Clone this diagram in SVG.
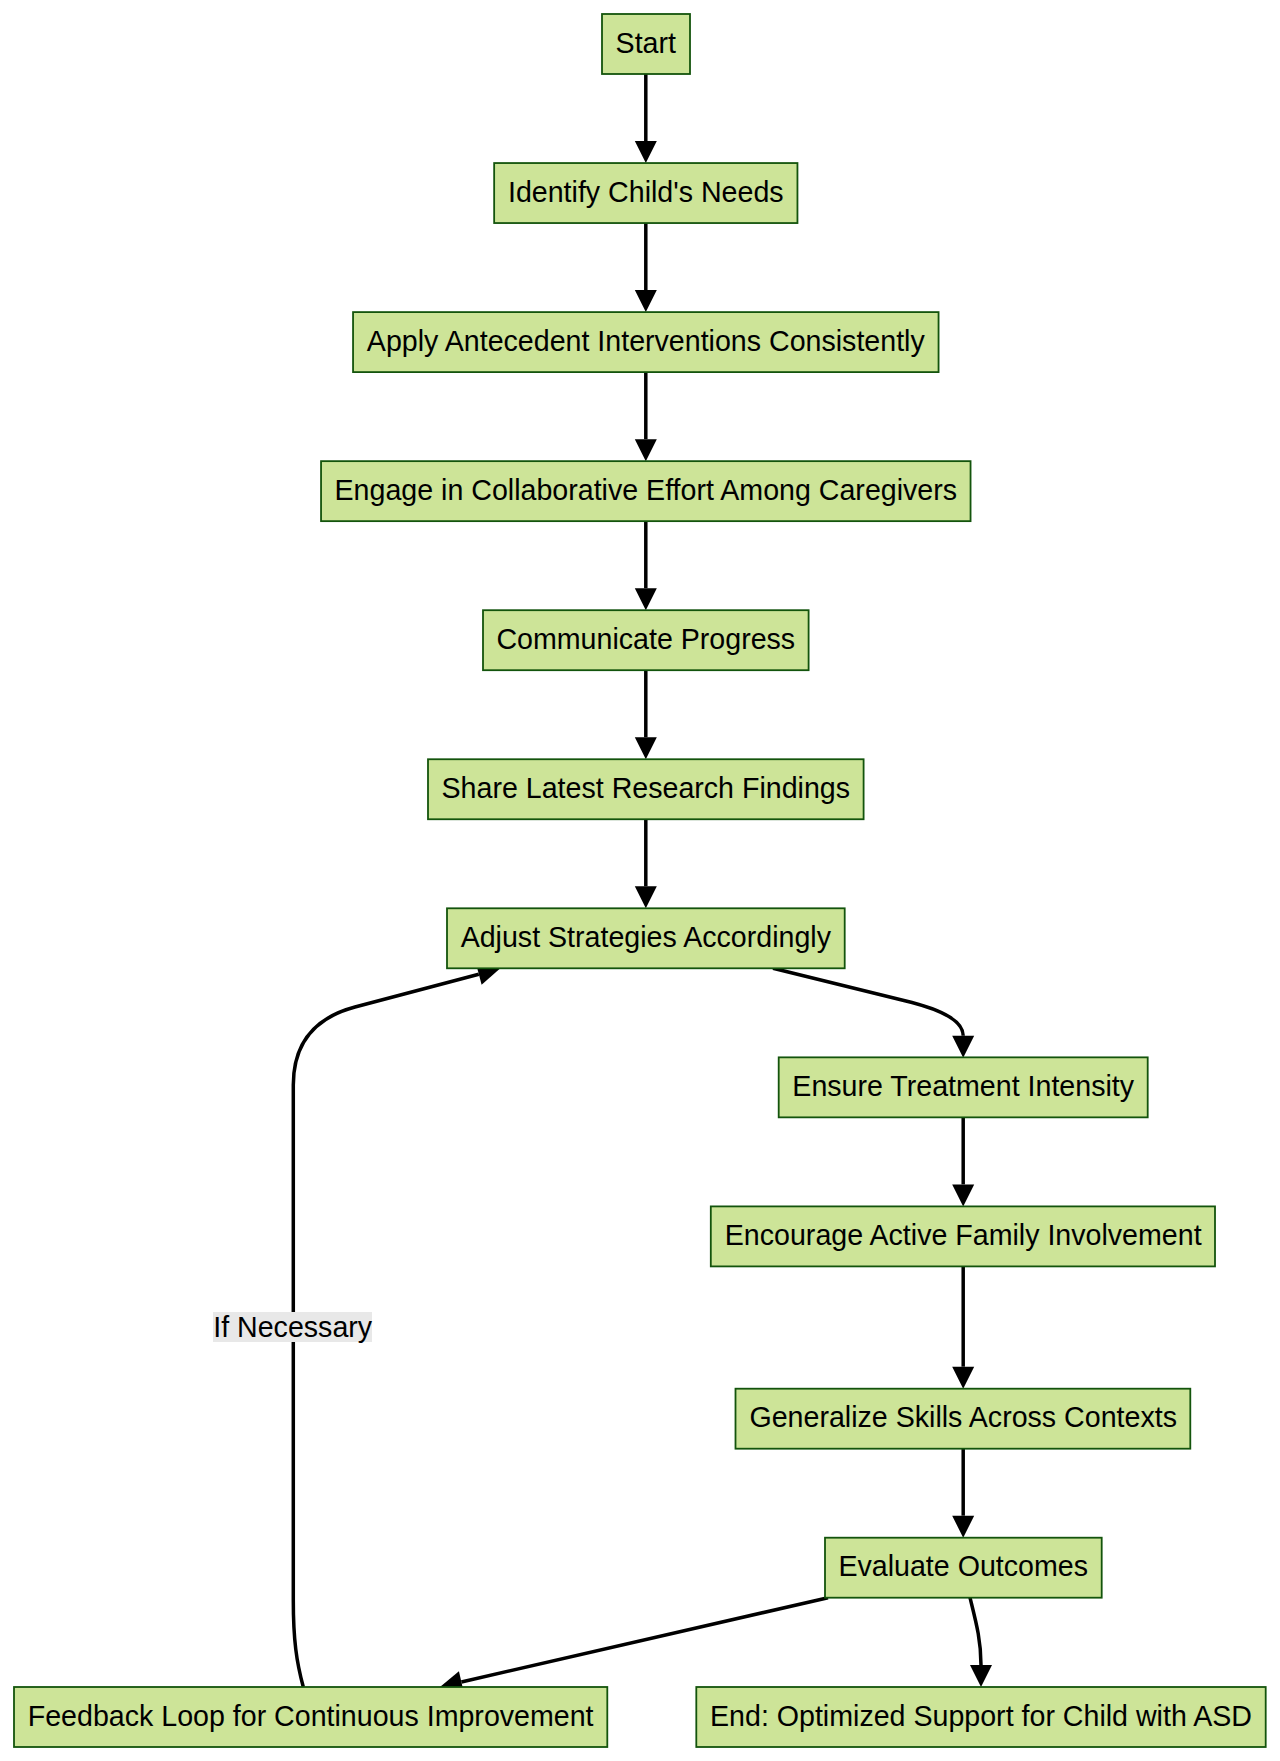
<svg xmlns="http://www.w3.org/2000/svg" width="1280" height="1761" viewBox="0 0 1280 1761">
<style>
.node rect{fill:#cde498;stroke:#13540c;stroke-width:1.8}
.node text,.lbl text{font-family:"Liberation Sans",Arial,sans-serif;font-size:28.6px;fill:#000;text-anchor:middle}
.edge{fill:none;stroke:#000;stroke-width:3.5}
</style>
<defs>
<marker id="arr" markerUnits="userSpaceOnUse" markerWidth="22" markerHeight="22" refX="0" refY="11" orient="auto" viewBox="0 0 22 22" overflow="visible">
<path d="M0,0 L22,11 L0,22 z" fill="#000"/>
</marker>
</defs>
<rect width="1280" height="1761" fill="#fff"/>
<g id="connectors">
<path class="edge" d="M645.8,74 L645.8,141.05" marker-end="url(#arr)"/>
<path class="edge" d="M645.8,223.05 L645.8,290.1" marker-end="url(#arr)"/>
<path class="edge" d="M645.8,372.1 L645.8,439.15" marker-end="url(#arr)"/>
<path class="edge" d="M645.8,521.15 L645.8,588.2" marker-end="url(#arr)"/>
<path class="edge" d="M645.8,670.2 L645.8,737.25" marker-end="url(#arr)"/>
<path class="edge" d="M645.8,819.25 L645.8,886.3" marker-end="url(#arr)"/>
<path class="edge" d="M773,968.3 L912,1002.5 Q963.2,1015.9 963.2,1035.7" marker-end="url(#arr)"/>
<path class="edge" d="M963.2,1117.35 L963.2,1184.4" marker-end="url(#arr)"/>
<path class="edge" d="M963.2,1266.4 L963.2,1366.7" marker-end="url(#arr)"/>
<path class="edge" d="M963.2,1448.7 L963.2,1515.7" marker-end="url(#arr)"/>
<path class="edge" d="M828,1597.7 L461.4,1682" marker-end="url(#arr)"/>
<path class="edge" d="M970,1597.7 C976,1622 981,1640 981,1665" marker-end="url(#arr)"/>
<path class="edge" d="M303.3,1687 C296.5,1662 293.3,1640 293.3,1600 L293.3,1085 Q293.3,1023.4 355,1007 L478.8,974.2" marker-end="url(#arr)"/>
<g class="lbl" id="label-if-necessary">
<rect x="213" y="1312" width="159" height="30" fill="#e8e8e8"/>
<text x="292.7" y="1336.5">If Necessary</text>
</g>
</g>
<g id="start" class="node"><rect x="602" y="14" width="88" height="60"/><text x="645.8" y="52.7">Start</text></g>
<g id="identify" class="node"><rect x="494.15" y="163.05" width="303.3" height="60"/><text x="645.8" y="201.7">Identify Child's Needs</text></g>
<g id="apply" class="node"><rect x="353.05" y="312.1" width="585.5" height="60"/><text x="645.8" y="350.8">Apply Antecedent Interventions Consistently</text></g>
<g id="engage" class="node"><rect x="321.05" y="461.15" width="649.5" height="60"/><text x="645.8" y="499.8">Engage in Collaborative Effort Among Caregivers</text></g>
<g id="communicate" class="node"><rect x="483" y="610.2" width="325.6" height="60"/><text x="645.8" y="648.9">Communicate Progress</text></g>
<g id="share" class="node"><rect x="428" y="759.25" width="435.6" height="60"/><text x="645.8" y="797.9">Share Latest Research Findings</text></g>
<g id="adjust" class="node"><rect x="447" y="908.3" width="397.7" height="60"/><text x="645.8" y="947">Adjust Strategies Accordingly</text></g>
<g id="ensure" class="node"><rect x="778.7" y="1057.35" width="369" height="60"/><text x="963.2" y="1096">Ensure Treatment Intensity</text></g>
<g id="encourage" class="node"><rect x="710.8" y="1206.4" width="504.2" height="60"/><text x="963.2" y="1245.1">Encourage Active Family Involvement</text></g>
<g id="generalize" class="node"><rect x="735.5" y="1388.7" width="454.8" height="60"/><text x="963.2" y="1427.4">Generalize Skills Across Contexts</text></g>
<g id="evaluate" class="node"><rect x="825" y="1537.7" width="276.7" height="60"/><text x="963.2" y="1576.4">Evaluate Outcomes</text></g>
<g id="feedback" class="node"><rect x="14" y="1687" width="593.3" height="60"/><text x="310.65" y="1725.7">Feedback Loop for Continuous Improvement</text></g>
<g id="end" class="node"><rect x="696.3" y="1687" width="569.4" height="60"/><text x="981" y="1725.7">End: Optimized Support for Child with ASD</text></g>
</svg>
